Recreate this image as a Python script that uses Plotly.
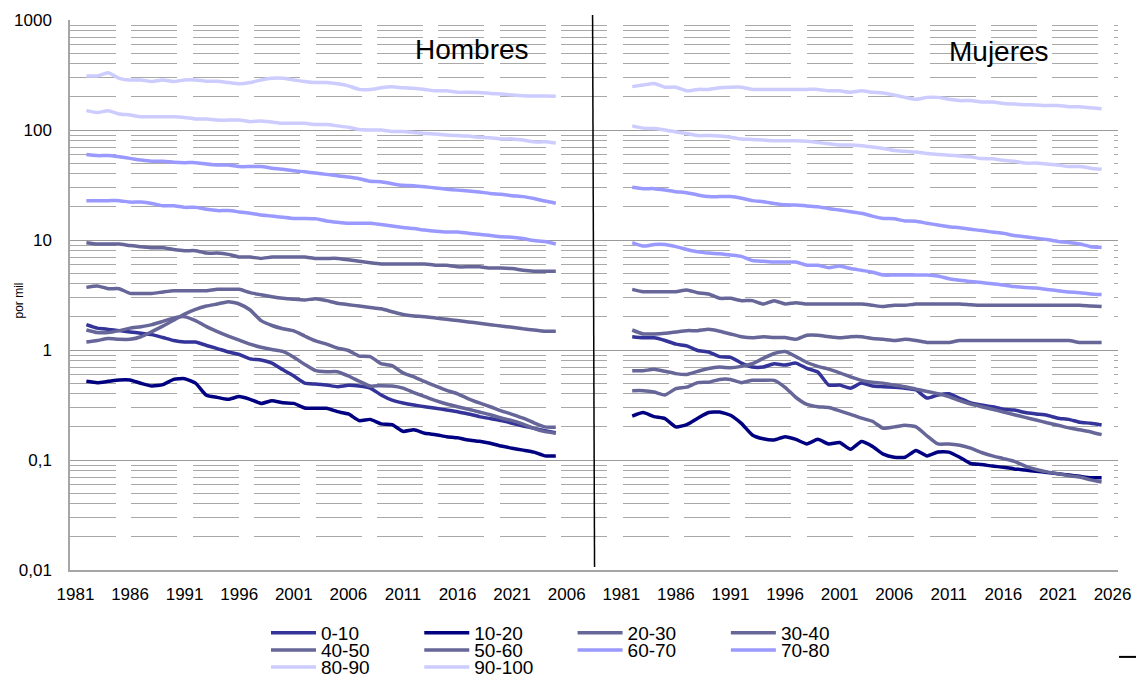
import plotly.graph_objects as go

# ---------------- data ----------------
YEARS = list(range(1982, 2026))          # 44 years per panel
PANEL_OFFSET = {"Hombres": 0, "Mujeres": 50}   # category offset of each panel on the shared axis
FIRST_CATEGORY_YEAR = 1981

TICK_POS = [0, 5, 10, 15, 20, 25, 30, 35, 40, 45, 50, 55, 60, 65, 70, 75, 80, 85, 90, 95]
TICK_LABELS = ["1981", "1986", "1991", "1996", "2001", "2006", "2011", "2016", "2021", "2006",
               "1981", "1986", "1991", "1996", "2001", "2006", "2011", "2016", "2021", "2026"]

Y_TICKS = [0.01, 0.1, 1, 10, 100, 1000]
Y_TICK_LABELS = ["0,01", "0,1", "1", "10", "100", "1000"]
Y_MINOR = [m * 10 ** e for e in range(-2, 3) for m in range(2, 10)]

AGE_GROUPS = ["0-10", "10-20", "20-30", "30-40", "40-50", "50-60", "60-70", "70-80", "80-90", "90-100"]

# Hombres (por mil), 1982-2025
H_0_10 = [1.70, 1.58, 1.54, 1.50, 1.46, 1.42, 1.38, 1.30, 1.22, 1.18,
          1.18, 1.10, 1.03, 0.96, 0.91, 0.83, 0.81, 0.76, 0.66, 0.58,
          0.50, 0.49, 0.48, 0.464, 0.477, 0.47, 0.45, 0.39, 0.35, 0.33,
          0.316, 0.305, 0.295, 0.285, 0.275, 0.262, 0.248, 0.238, 0.228, 0.216,
          0.204, 0.194, 0.185, 0.177]
H_10_20 = [0.519, 0.505, 0.519, 0.534, 0.534, 0.498, 0.47, 0.484, 0.541, 0.549,
           0.50, 0.387, 0.371, 0.356, 0.377, 0.356, 0.327, 0.346, 0.332, 0.327,
           0.297, 0.295, 0.295, 0.275, 0.262, 0.228, 0.234, 0.213, 0.210, 0.182,
           0.188, 0.175, 0.170, 0.163, 0.159, 0.152, 0.148, 0.142, 0.134, 0.128,
           0.123, 0.118, 0.109, 0.109]
H_20_30 = [1.52, 1.44, 1.44, 1.50, 1.58, 1.63, 1.70, 1.82, 1.95, 2.01,
           1.85, 1.63, 1.47, 1.34, 1.23, 1.13, 1.06, 1.01, 0.97, 0.86,
           0.74, 0.65, 0.635, 0.635, 0.58, 0.52, 0.47, 0.474, 0.47, 0.45,
           0.41, 0.377, 0.346, 0.323, 0.305, 0.289, 0.273, 0.258, 0.241, 0.228,
           0.212, 0.194, 0.181, 0.175]
H_30_40 = [1.18, 1.22, 1.27, 1.25, 1.25, 1.32, 1.47, 1.65, 1.87, 2.12,
           2.34, 2.51, 2.62, 2.75, 2.62, 2.31, 1.85, 1.67, 1.56, 1.49,
           1.34, 1.21, 1.13, 1.04, 0.99, 0.88, 0.87, 0.75, 0.72, 0.62,
           0.57, 0.515, 0.47, 0.43, 0.40, 0.36, 0.33, 0.305, 0.28, 0.26,
           0.24, 0.218, 0.20, 0.198]
H_40_50 = [3.71, 3.82, 3.61, 3.61, 3.27, 3.27, 3.27, 3.37, 3.46, 3.46,
           3.46, 3.46, 3.56, 3.56, 3.56, 3.32, 3.18, 3.05, 2.95, 2.89,
           2.85, 2.93, 2.81, 2.66, 2.58, 2.51, 2.44, 2.37, 2.23, 2.10,
           2.04, 2.01, 1.95, 1.90, 1.85, 1.80, 1.75, 1.70, 1.65, 1.61,
           1.56, 1.52, 1.48, 1.48]
H_50_60 = [9.46, 9.2, 9.2, 9.2, 8.9, 8.7, 8.5, 8.5, 8.2, 8.0,
           8.0, 7.6, 7.6, 7.4, 7.0, 7.0, 6.8, 7.0, 7.0, 7.0,
           7.0, 6.8, 6.8, 6.8, 6.6, 6.4, 6.2, 6.05, 6.05, 6.05,
           6.05, 6.05, 5.9, 5.9, 5.7, 5.7, 5.7, 5.56, 5.56, 5.5,
           5.3, 5.2, 5.2, 5.2]
H_60_70 = [22.8, 22.8, 22.8, 22.8, 22.1, 22.1, 21.5, 20.5, 20.5, 19.8,
           19.8, 19.0, 18.5, 18.5, 18.0, 17.5, 16.9, 16.5, 16.1, 15.7,
           15.7, 15.6, 14.9, 14.5, 14.2, 14.2, 14.2, 13.8, 13.4, 13.0,
           12.7, 12.3, 12.0, 11.8, 11.8, 11.5, 11.3, 11.0, 10.7, 10.6,
           10.3, 9.9, 9.7, 9.2]
H_70_80 = [60, 58.5, 58.5, 57, 55.2, 53.3, 52, 52, 51, 50.5,
           50.5, 49, 48, 48, 46.5, 46.5, 46.5, 45, 44, 42.6,
           41.7, 40.6, 39.5, 38.4, 37.4, 36.1, 34.2, 33.9, 32.5, 31.4,
           31.2, 30.5, 29.7, 29.0, 28.4, 27.9, 27.3, 26.5, 26.0, 25.3,
           24.8, 23.8, 22.6, 21.6]
H_80_90 = [150, 144, 150, 140, 137, 132, 132, 132, 132, 130,
           126, 126, 123, 123, 123, 119, 121, 118, 115, 115,
           115, 112, 112, 109, 106, 101, 100, 100, 97, 97,
           95, 93, 92, 90, 89, 88, 86, 85, 83, 83,
           81, 78, 78, 76]
H_90_100 = [310, 310, 332, 295, 285, 285, 276, 285, 276, 285,
            285, 278, 278, 270, 263, 270, 285, 295, 295, 285,
            276, 270, 270, 263, 252, 234, 234, 242, 247, 242,
            240, 234, 227, 227, 220, 220, 219, 215, 212, 208,
            205, 204, 204, 203]

# Mujeres (por mil), 1982-2025
M_0_10 = [1.32, 1.29, 1.29, 1.22, 1.13, 1.09, 0.99, 0.96, 0.87, 0.86,
          0.76, 0.70, 0.70, 0.75, 0.73, 0.76, 0.68, 0.63, 0.48, 0.48,
          0.45, 0.50, 0.47, 0.464, 0.458, 0.45, 0.433, 0.366, 0.39, 0.40,
          0.364, 0.33, 0.316, 0.305, 0.289, 0.285, 0.27, 0.262, 0.255, 0.24,
          0.234, 0.22, 0.216, 0.208]
M_10_20 = [0.251, 0.27, 0.248, 0.238, 0.20, 0.21, 0.24, 0.27, 0.273, 0.255,
           0.215, 0.169, 0.156, 0.152, 0.163, 0.154, 0.14, 0.154, 0.14, 0.144,
           0.125, 0.147, 0.133, 0.113, 0.106, 0.106, 0.122, 0.109, 0.118, 0.118,
           0.106, 0.093, 0.091, 0.088, 0.086, 0.083, 0.081, 0.079, 0.077, 0.075,
           0.073, 0.071, 0.069, 0.069]
M_20_30 = [0.427, 0.427, 0.415, 0.39, 0.445, 0.46, 0.505, 0.51, 0.54, 0.54,
           0.505, 0.53, 0.53, 0.53, 0.458, 0.37, 0.32, 0.305, 0.30, 0.28,
           0.26, 0.24, 0.225, 0.194, 0.20, 0.207, 0.20, 0.166, 0.14, 0.14,
           0.136, 0.128, 0.117, 0.109, 0.103, 0.097, 0.088, 0.082, 0.078, 0.075,
           0.072, 0.07, 0.066, 0.063]
M_30_40 = [0.649, 0.649, 0.667, 0.64, 0.61, 0.60, 0.64, 0.68, 0.70, 0.69,
           0.71, 0.75, 0.84, 0.93, 0.97, 0.87, 0.77, 0.71, 0.67, 0.62,
           0.57, 0.53, 0.51, 0.50, 0.48, 0.464, 0.44, 0.42, 0.40, 0.377,
           0.346, 0.323, 0.305, 0.289, 0.273, 0.258, 0.244, 0.231, 0.218, 0.207,
           0.196, 0.188, 0.18, 0.17]
M_40_50 = [1.52, 1.40, 1.40, 1.42, 1.46, 1.50, 1.50, 1.54, 1.48, 1.40,
           1.32, 1.29, 1.32, 1.30, 1.30, 1.25, 1.36, 1.36, 1.32, 1.29,
           1.32, 1.32, 1.27, 1.25, 1.22, 1.25, 1.22, 1.17, 1.17, 1.17,
           1.22, 1.22, 1.22, 1.22, 1.22, 1.22, 1.22, 1.22, 1.22, 1.22,
           1.22, 1.17, 1.17, 1.17]
M_50_60 = [3.56, 3.39, 3.39, 3.39, 3.39, 3.51, 3.32, 3.23, 2.95, 2.95,
           2.81, 2.81, 2.62, 2.81, 2.62, 2.69, 2.62, 2.62, 2.62, 2.62,
           2.62, 2.62, 2.55, 2.48, 2.55, 2.55, 2.62, 2.62, 2.62, 2.62,
           2.62, 2.58, 2.55, 2.55, 2.55, 2.55, 2.55, 2.55, 2.55, 2.55,
           2.55, 2.55, 2.51, 2.48]
M_60_70 = [9.46, 8.8, 9.1, 9.1, 8.7, 8.2, 7.8, 7.6, 7.5, 7.3,
           7.1, 6.5, 6.4, 6.3, 6.3, 6.3, 5.9, 5.9, 5.6, 5.8,
           5.5, 5.3, 5.1, 4.8, 4.8, 4.8, 4.8, 4.8, 4.7, 4.45,
           4.3, 4.2, 4.1, 4.0, 3.9, 3.77, 3.7, 3.66, 3.55, 3.46,
           3.37, 3.32, 3.23, 3.19]
M_70_80 = [30.1, 29.3, 29.3, 28.5, 27.5, 26.9, 25.7, 24.8, 24.8, 24.8,
           24.0, 22.8, 22.3, 21.5, 20.9, 20.8, 20.4, 20.1, 19.3, 18.7,
           18.1, 17.5, 16.5, 15.7, 15.6, 14.9, 14.8, 14.2, 13.7, 13.2,
           12.9, 12.5, 12.2, 11.8, 11.5, 11.0, 10.7, 10.4, 10.1, 9.7,
           9.5, 9.2, 8.7, 8.6]
M_80_90 = [109, 104, 103, 100, 96, 93, 89, 89, 88, 86,
           83, 82, 81, 80, 80, 80, 79, 77, 75, 73,
           73, 72, 70, 68, 65, 64, 63, 61, 60, 59,
           58, 57, 55, 54.7, 53, 52, 50, 50, 49, 48,
           46.5, 46.5, 45, 44]
M_90_100 = [248, 256, 265, 245, 245, 227, 234, 234, 242, 245,
            245, 234, 234, 234, 234, 234, 234, 234, 227, 227,
            220, 227, 220, 217, 208, 198, 190, 198, 198, 190,
            185, 185, 180, 180, 174, 172, 170, 169, 167, 167,
            163, 163, 159, 156]

HOMBRES = [H_0_10, H_10_20, H_20_30, H_30_40, H_40_50, H_50_60, H_60_70, H_70_80, H_80_90, H_90_100]
MUJERES = [M_0_10, M_10_20, M_20_30, M_30_40, M_40_50, M_50_60, M_60_70, M_70_80, M_80_90, M_90_100]

# ---------------- style ----------------
COLORS = ["#333399", "#000080", "#666699", "#666699", "#666699", "#666699",
          "#9999FF", "#9999FF", "#CCCCFF", "#CCCCFF"]
LEGEND_OF = ["legend", "legend", "legend", "legend",
             "legend2", "legend2", "legend2", "legend2",
             "legend3", "legend3"]
FONT = "Liberation Sans, Arial, sans-serif"
GRID_MAJOR = "#9A9A9A"
GRID_MINOR = "#A8A8A8"
AXIS_LINE = "#A6A6A6"
N_CATEGORIES = 96
DIVIDER = (47.55, 47.37)   # category position of the panel divider (bottom, top)

fig = go.Figure()
for g, name in enumerate(AGE_GROUPS):
    for panel, series in (("Hombres", HOMBRES[g]), ("Mujeres", MUJERES[g])):
        x = [yr - FIRST_CATEGORY_YEAR + PANEL_OFFSET[panel] for yr in YEARS]
        fig.add_trace(go.Scatter(
            x=x, y=series, mode="lines", name=name,
            legendgroup=name, legend=LEGEND_OF[g],
            showlegend=(panel == "Hombres"),
            line=dict(color=COLORS[g], width=3.5, shape="spline", smoothing=0.5),
            hoverinfo="skip",
        ))

fig.update_layout(
    width=1136, height=677,
    margin=dict(l=70, r=18, t=20, b=107, autoexpand=False),
    paper_bgcolor="white", plot_bgcolor="white",
    font=dict(family=FONT, color="black", size=17),
    showlegend=True,
)

fig.update_xaxes(
    range=[-0.5, N_CATEGORIES - 0.5],
    tickmode="array", tickvals=TICK_POS, ticktext=TICK_LABELS,
    showgrid=False, zeroline=False,
    showline=True, linecolor=AXIS_LINE, linewidth=1.5,
    ticks="", ticklabelstandoff=8,
    tickfont=dict(family=FONT, size=17, color="black"),
)
fig.update_yaxes(
    type="log", range=[-2, 3],
    tickmode="array", tickvals=Y_TICKS, ticktext=Y_TICK_LABELS,
    showgrid=True, gridcolor=GRID_MAJOR, gridwidth=1,
    minor=dict(tickmode="array", tickvals=Y_MINOR, showgrid=True,
               gridcolor=GRID_MINOR, gridwidth=1.4, griddash="46px,15.4px", ticks=""),
    zeroline=False, showline=True, linecolor=AXIS_LINE, linewidth=1.5,
    ticks="", ticklabelstandoff=13,
    tickfont=dict(family=FONT, size=17, color="black"),
)

legend_common = dict(orientation="h", font=dict(family=FONT, size=19, color="black"),
                     bgcolor="rgba(0,0,0,0)", borderwidth=0, itemwidth=45,
                     entrywidth=93.3, entrywidthmode="pixels",
                     xanchor="left", yanchor="middle", traceorder="normal",
                     itemclick=False, itemdoubleclick=False)
fig.update_layout(
    legend=dict(x=0.187, y=-0.1145, **legend_common),
    legend2=dict(x=0.187, y=-0.1455, **legend_common),
    legend3=dict(x=0.187, y=-0.1765, **legend_common),
)

fig.add_annotation(text="Hombres", xref="paper", yref="paper", x=0.3836, y=0.947,
                   showarrow=False, xanchor="center", yanchor="middle",
                   font=dict(family=FONT, size=28, color="black"))
fig.add_annotation(text="Mujeres", xref="paper", yref="paper", x=0.8869, y=0.942,
                   showarrow=False, xanchor="center", yanchor="middle",
                   font=dict(family=FONT, size=28, color="black"))
fig.add_annotation(text="por mil", xref="paper", yref="paper", x=-0.0496, y=0.49,
                   showarrow=False, textangle=-90, xanchor="center", yanchor="middle",
                   font=dict(family=FONT, size=12, color="black"))

# panel divider and the small mark at the lower right edge
fig.add_shape(type="line", xref="x", yref="paper",
              x0=DIVIDER[0], y0=0.0055, x1=DIVIDER[1], y1=1.009,
              line=dict(color="black", width=1.5), layer="above")
fig.add_shape(type="line", xref="paper", yref="paper",
              x0=1.001, y0=-0.158, x1=1.02, y1=-0.158,
              line=dict(color="black", width=2), layer="above")

fig.write_html("out.html")
